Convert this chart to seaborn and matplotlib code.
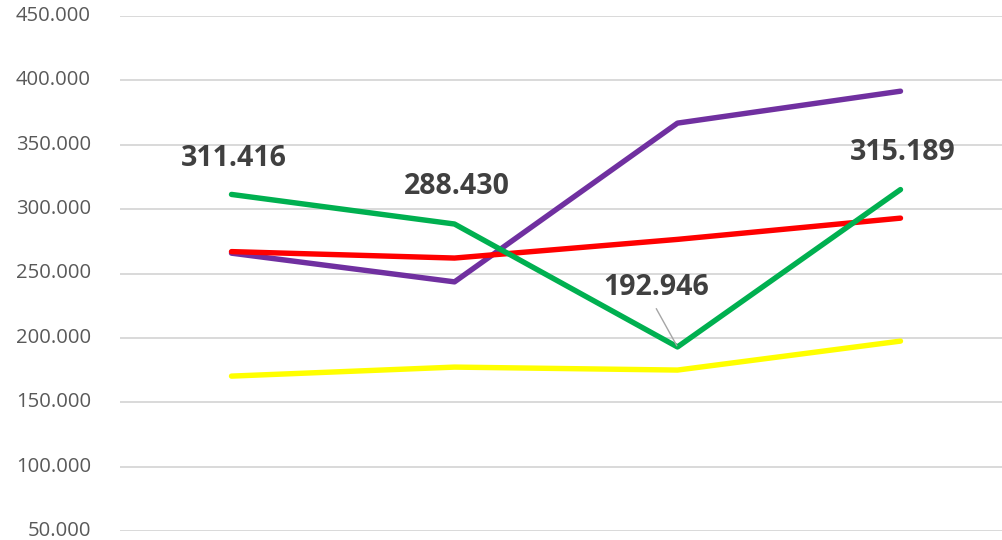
import numpy as np
import pandas as pd
import seaborn as sns
import matplotlib.pyplot as plt
import matplotlib.transforms as mtransforms

# data
categories = ['1', '2', '3', '4']
series_names = ['purple', 'red', 'yellow', 'green']
purple_vals = [265.8, 243.5, 366.8, 391.6]
red_vals = [267.0, 262.0, 276.5, 293.0]
yellow_vals = [170.3, 177.3, 175.0, 197.5]
green_vals = [311.416, 288.430, 192.946, 315.189]
label_texts = ['311.416', '288.430', '192.946', '315.189']
y_ticks = [50, 100, 150, 200, 250, 300, 350, 400, 450]

colors = {'purple': '#7030A0', 'red': '#FF0000', 'yellow': '#FFFF00', 'green': '#00B050'}

rows = []
for name, vals in zip(series_names, [purple_vals, red_vals, yellow_vals, green_vals]):
    for c, v in zip(categories, vals):
        rows.append([name, c, v])
df = pd.DataFrame(rows, columns=['series', 'cat', 'value'])

sns.set_theme(style='white')
plt.rcParams['font.family'] = ['Open Sans', 'DejaVu Sans']

fig = plt.figure(figsize=(10.02, 5.40), dpi=100)
ax = fig.add_axes([120 / 1002, 9 / 540, 892 / 1002, 515 / 540])

sns.lineplot(data=df, x='cat', y='value', hue='series', palette=colors,
             hue_order=series_names, linewidth=3.9, sort=False, legend=False,
             ax=ax, solid_capstyle='round')

ax.set_xlim(-0.5, 3.5)
ax.set_ylim(50, 450)
ax.set_yticks(y_ticks)
ax.set_yticklabels(['%.3f' % t for t in y_ticks], color='#595959', fontsize=14.6)
ax.tick_params(axis='y', length=0, pad=21)
# nudge tick labels up a touch so the lowest one stays inside the picture
shift = mtransforms.ScaledTranslation(0, 2.5 / 100, fig.dpi_scale_trans)
for lab in ax.get_yticklabels():
    lab.set_transform(lab.get_transform() + shift)
ax.set_xticks([])
ax.set_xlabel('')
ax.set_ylabel('')
ax.yaxis.grid(True, color='#D9D9D9', linewidth=1.4)
ax.set_axisbelow(True)
for s in ax.spines.values():
    s.set_visible(False)

# data labels on the green series
offsets = [(1.5, 26), (2, 27), (-15, 43), (1.5, 27)]
for i, (txt, off) in enumerate(zip(label_texts, offsets)):
    if i == 2:
        ax.annotate(txt, xy=(i, green_vals[i]), xytext=off, textcoords='offset points',
                    ha='center', va='center', fontsize=20.5, fontweight='bold', color='#404040',
                    arrowprops=dict(arrowstyle='-', color='#A6A6A6', lw=1.0, relpos=(0.46, 0.0),
                                    shrinkA=3, shrinkB=1))
    else:
        ax.annotate(txt, xy=(i, green_vals[i]), xytext=off, textcoords='offset points',
                    ha='center', va='center', fontsize=20.5, fontweight='bold', color='#404040')

fig.savefig('out.png', dpi=100)
